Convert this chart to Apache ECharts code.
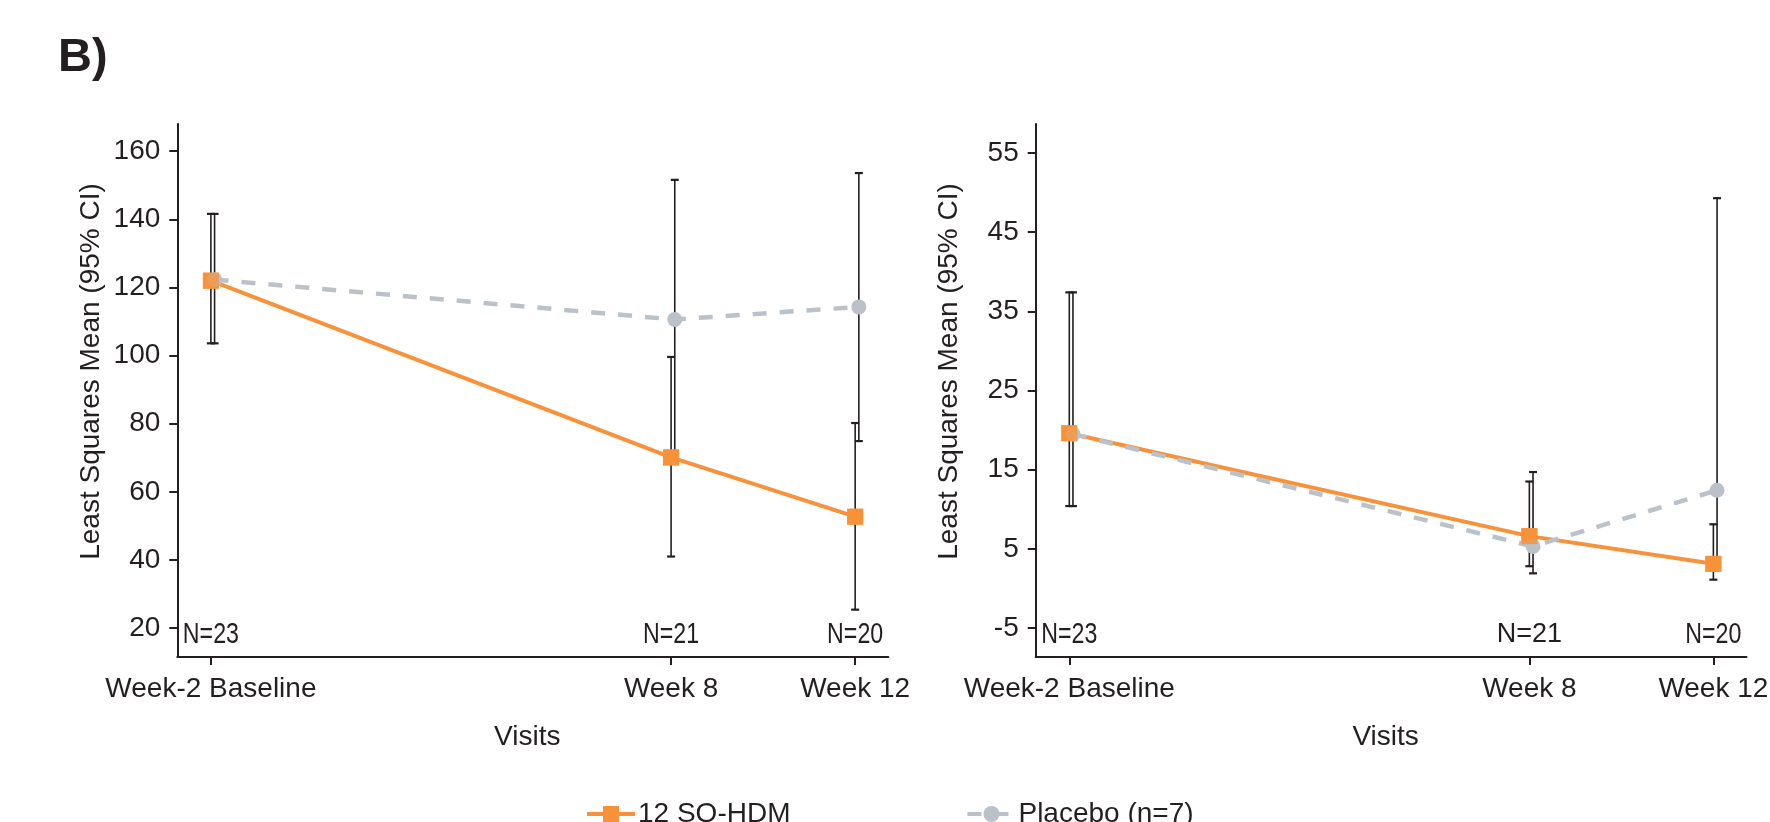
<!DOCTYPE html>
<html>
<head>
<meta charset="utf-8">
<script src="https://cdn.jsdelivr.net/npm/echarts@6/dist/echarts.min.js"></script>
<style>
html,body{margin:0;padding:0;background:#fff;}
#chart{width:1770px;height:822px;}
</style>
</head>
<body>
<div id="chart"></div>
<script>
// ---------------- DATA ----------------
const weeks = [-2, 8, 12];
const xTickLabels = ['Week-2 Baseline', 'Week 8', 'Week 12'];
const seriesNames = ['12 SQ-HDM', 'Placebo (n=7)'];

// Left panel
const leftActiveMean = [122.0, 70.1, 52.7];
const leftActiveLow = [103.6, 41.0, 25.4];
const leftActiveHigh = [141.6, 99.6, 80.2];
const leftPlaceboMean = [122.3, 110.6, 114.3];
const leftPlaceboLow = [103.6, 70.0, 74.9];
const leftPlaceboHigh = [141.6, 151.6, 153.6];
const leftN = ['N=23', 'N=21', 'N=20'];
const leftYTicks = [20, 40, 60, 80, 100, 120, 140, 160];

// Right panel
const rightActiveMean = [19.6, 6.6, 3.1];
const rightActiveLow = [10.4, 2.8, 1.1];
const rightActiveHigh = [37.4, 13.5, 8.1];
const rightPlaceboMean = [19.5, 5.3, 12.4];
const rightPlaceboLow = [10.4, 1.9, 2.8];
const rightPlaceboHigh = [37.4, 14.7, 49.3];
const rightN = ['N=23', 'N=21', 'N=20'];
const rightYTicks = [-5, 5, 15, 25, 35, 45, 55];

// ---------------- STYLE ----------------
const FONT = "'Liberation Sans', Arial, Helvetica, sans-serif";
const INK = '#231f20';
const ORANGE = '#f7923a';
const GRAY = '#bac1c8';
const DODGE = 0.08; // horizontal offset of placebo marks (weeks)
const X_MIN = -2.73, X_MAX = 12.72;
const panels = [
  {yMin: 11.5, yMax: 168, ticks: leftYTicks, aM: leftActiveMean, aL: leftActiveLow, aH: leftActiveHigh,
   pM: leftPlaceboMean, pL: leftPlaceboLow, pH: leftPlaceboHigh, n: leftN, narrow: [true, true, true]},
  {yMin: -8.67, yMax: 58.67, ticks: rightYTicks, aM: rightActiveMean, aL: rightActiveLow, aH: rightActiveHigh,
   pM: rightPlaceboMean, pL: rightPlaceboLow, pH: rightPlaceboHigh, n: rightN, narrow: [true, false, true]}
];

function errRender(params, api) {
  const x = api.value(0), lo = api.value(1), hi = api.value(2);
  const a = api.coord([x, hi]), b = api.coord([x, lo]);
  const cw = 4;
  const st = {stroke: INK, lineWidth: 1.6};
  const cst = {stroke: INK, lineWidth: 2.2};
  return {type: 'group', children: [
    {type: 'line', shape: {x1: a[0], y1: a[1], x2: b[0], y2: b[1]}, style: st},
    {type: 'line', shape: {x1: a[0] - cw, y1: a[1], x2: a[0] + cw, y2: a[1]}, style: cst},
    {type: 'line', shape: {x1: b[0] - cw, y1: b[1], x2: b[0] + cw, y2: b[1]}, style: cst}
  ]};
}

const grids = [
  {left: 177.3, right: 1770 - 888.3, top: 124, bottom: 165, outerBoundsMode: 'none', containLabel: false},
  {left: 1035.7, right: 1770 - 1746.5, top: 124, bottom: 165, outerBoundsMode: 'none', containLabel: false}
];

const xAxes = [], yAxes = [], series = [];
panels.forEach((p, gi) => {
  xAxes.push({
    type: 'value', gridIndex: gi, min: X_MIN, max: X_MAX,
    name: 'Visits', nameLocation: 'middle', nameGap: 66,
    nameTextStyle: {fontSize: 28, color: INK, fontFamily: FONT, padding: [0, 11, 0, 0]},
    axisLine: {show: true, onZero: false, lineStyle: {color: INK, width: 2}},
    axisTick: {show: true, customValues: weeks, length: 8, lineStyle: {color: INK, width: 2}},
    axisLabel: {show: true, customValues: weeks, formatter: v => xTickLabels[weeks.indexOf(v)],
      fontSize: 28, color: INK, fontFamily: FONT, margin: 18},
    splitLine: {show: false}
  });
  yAxes.push({
    type: 'value', gridIndex: gi, min: p.yMin, max: p.yMax,
    name: 'Least Squares Mean (95% CI)', nameLocation: 'middle', nameGap: 72,
    nameTextStyle: {fontSize: 28, color: INK, fontFamily: FONT, padding: [0, 0, 0, 38]},
    axisLine: {show: true, onZero: false, lineStyle: {color: INK, width: 2}},
    axisTick: {show: true, customValues: p.ticks, length: 8, lineStyle: {color: INK, width: 2}},
    axisLabel: {show: true, customValues: p.ticks, fontSize: 28, color: INK, fontFamily: FONT, margin: 17},
    splitLine: {show: false}
  });
  series.push({
    type: 'custom', xAxisIndex: gi, yAxisIndex: gi, silent: true, z: 1,
    renderItem: errRender, encode: {x: 0, y: [1, 2]},
    data: weeks.map((w, i) => [w, p.aL[i], p.aH[i]])
  });
  series.push({
    type: 'custom', xAxisIndex: gi, yAxisIndex: gi, silent: true, z: 1,
    renderItem: errRender, encode: {x: 0, y: [1, 2]},
    data: weeks.map((w, i) => [w + DODGE, p.pL[i], p.pH[i]])
  });
  series.push({
    type: 'line', name: seriesNames[0], xAxisIndex: gi, yAxisIndex: gi, z: 2,
    data: weeks.map((w, i) => [w, p.aM[i]]),
    symbol: 'rect', symbolSize: 16, showSymbol: true,
    lineStyle: {color: ORANGE, width: 4}, itemStyle: {color: ORANGE}
  });
  series.push({
    type: 'line', name: seriesNames[1], xAxisIndex: gi, yAxisIndex: gi, z: 3,
    data: weeks.map((w, i) => [w + DODGE, p.pM[i]]),
    symbol: 'circle', symbolSize: 15, showSymbol: true,
    lineStyle: {color: GRAY, width: 4.5, type: [14, 13]}, itemStyle: {color: GRAY}
  });
  series.push({
    type: 'scatter', name: seriesNames[0], xAxisIndex: gi, yAxisIndex: gi, z: 4,
    data: weeks.map((w, i) => [w, p.aM[i]]),
    symbol: 'rect', symbolSize: 16, itemStyle: {color: ORANGE}
  });
  series.push({
    type: 'custom', xAxisIndex: gi, yAxisIndex: gi, silent: true, z: 5,
    encode: {x: 0, y: 1},
    data: weeks.map((w) => [w, p.yMin]),
    renderItem: (params, api) => {
      const i = params.dataIndex;
      const pt = api.coord([api.value(0), api.value(1)]);
      const narrow = p.narrow[i];
      return {type: 'text', x: pt[0], y: pt[1] - 22.5, scaleX: narrow ? 0.8 : 1,
        style: {text: p.n[i], fontSize: narrow ? 29 : 27, fontFamily: FONT, fill: INK,
          align: 'center', verticalAlign: 'middle'}};
    }
  });
});

const chart = echarts.init(document.getElementById('chart'), null, {renderer: 'canvas'});
chart.setOption({
  animation: false,
  backgroundColor: '#fff',
  title: {text: 'B)', left: 58, top: 35, padding: 0,
    textStyle: {fontSize: 47, fontWeight: 'bold', color: INK, fontFamily: FONT}},
  legend: {
    data: seriesNames, left: 585, top: 800, padding: 0,
    itemWidth: 48, itemHeight: 20, itemGap: 175,
    lineStyle: {width: 4},
    textStyle: {fontSize: 28, color: INK, fontFamily: FONT, padding: [0, 0, 0, -2]}
  },
  grid: grids,
  xAxis: xAxes,
  yAxis: yAxes,
  series: series
});
</script>
</body>
</html>
